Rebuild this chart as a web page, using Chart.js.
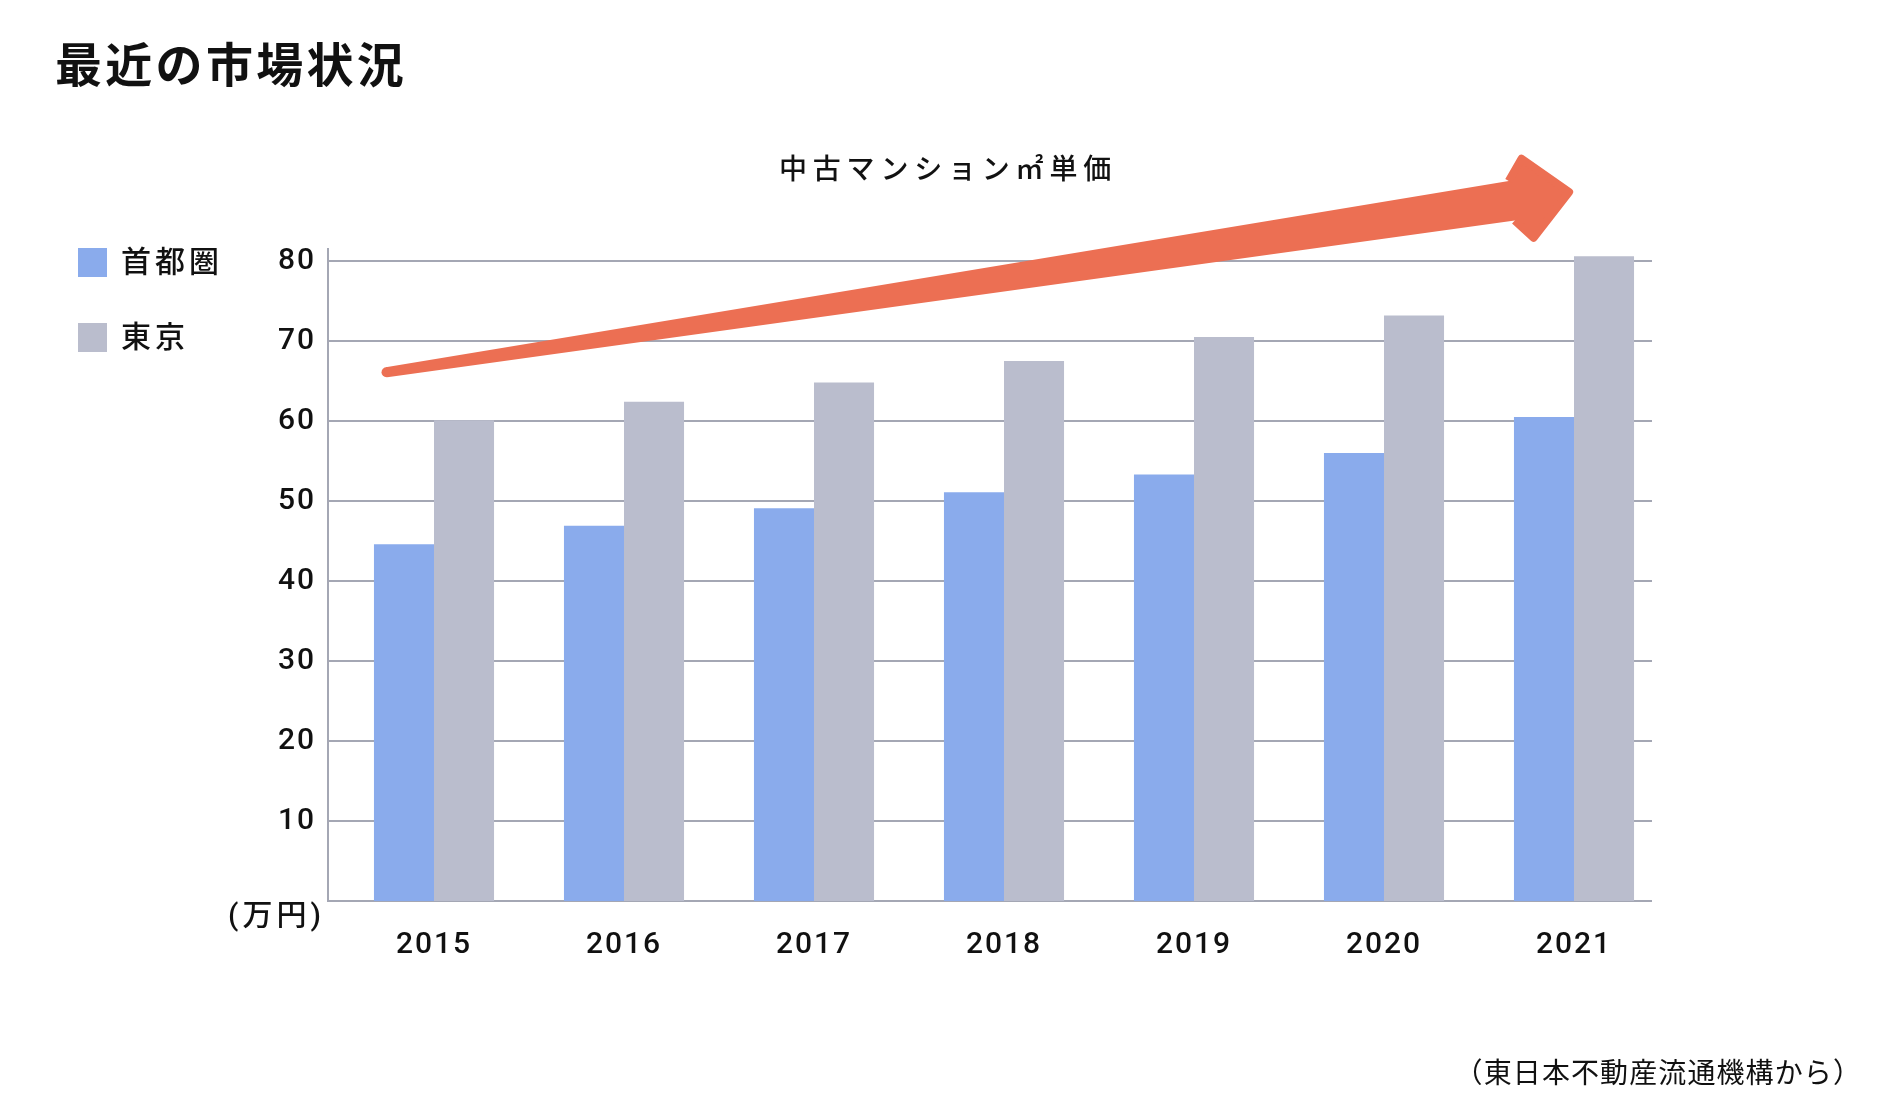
<!DOCTYPE html>
<html lang="ja">
<head>
<meta charset="utf-8">
<title>最近の市場状況</title>
<script src="https://cdn.jsdelivr.net/npm/chart.js@4/dist/chart.umd.min.js"></script>
<style>
    body {
        margin: 0;
        background: #ffffff;
        font-family: Roboto, 'Noto Sans CJK JP', sans-serif;
        color: #111111;
    }
    .page {
        position: relative;
        width: 1888px;
        height: 1113px;
        overflow: hidden;
    }
    .chart-box {
        position: absolute;
        left: 0;
        top: 0;
        width: 1888px;
        height: 1113px;
    }
    .txt {
        position: absolute;
        white-space: nowrap;
        line-height: 1;
    }
    .main-title {
        left: 55px;
        top: 42px;
        font-size: 47px;
        font-weight: 700;
        letter-spacing: 3.3px;
    }
    .sub-title {
        left: 779px;
        top: 156px;
        font-size: 28px;
        font-weight: 500;
        letter-spacing: 5.8px;
    }
    .legend-item {
        position: absolute;
        left: 78px;
        height: 30px;
    }
    .legend-swatch {
        position: absolute;
        left: 0;
        top: 0;
        width: 29px;
        height: 29px;
    }
    .legend-label {
        position: absolute;
        left: 43px;
        top: -1px;
        font-size: 30px;
        font-weight: 500;
        letter-spacing: 4px;
        line-height: 1;
        white-space: nowrap;
    }
    .unit {
        left: 228px;
        top: 900px;
        font-size: 30px;
        font-weight: 500;
        letter-spacing: 4px;
    }
    .source {
        right: 26px;
        top: 1060px;
        font-size: 28px;
        letter-spacing: 1.1px;
    }
</style>
</head>
<body>
<div class="page">
    <div class="chart-box"><canvas id="marketChart"></canvas></div>
    <div class="txt main-title">最近の市場状況</div>
    <div class="txt sub-title">中古マンション㎡単価</div>
    <div id="legend"></div>
    <div class="txt unit">(万円)</div>
    <div class="txt source">（東日本不動産流通機構から）</div>
</div>

<script>
// データ（万円/㎡）
const years = ['2015', '2016', '2017', '2018', '2019', '2020', '2021'];
const shutokenValues = [44.6, 46.9, 49.1, 51.1, 53.3, 56.0, 60.5];
const tokyoValues = [60.1, 62.4, 64.8, 67.5, 70.5, 73.2, 80.6];
const seriesNames = ['首都圏', '東京'];
const seriesColors = ['#8aabec', '#babdcd'];
const yMin = 0;
const yMax = 80;
const yStep = 10;

// 矢印（カテゴリ位置・値で指定）
const arrowStart = { x: -0.25, y: 66.1 };
const arrowTip = { x: 5.995, y: 88.7 };

const gridColor = '#a4a7b4';
const arrowColor = '#ec6f53';

// 凡例
function buildLegend() {
    const legend = document.getElementById('legend');
    const tops = [248, 323];
    seriesNames.forEach((name, i) => {
        const item = document.createElement('div');
        item.className = 'legend-item';
        item.style.top = tops[i] + 'px';
        const sw = document.createElement('div');
        sw.className = 'legend-swatch';
        sw.style.background = seriesColors[i];
        const lb = document.createElement('div');
        lb.className = 'legend-label';
        lb.textContent = name;
        item.appendChild(sw);
        item.appendChild(lb);
        legend.appendChild(item);
    });
}

// 目盛線と軸線（グラフ領域より少し左から、少し手前まで）
const axisLines = {
    id: 'axisLines',
    beforeDatasetsDraw(chart) {
        const ctx = chart.ctx;
        const area = chart.chartArea;
        const ys = chart.scales.y;
        const x0 = area.left - 11;
        const x1 = area.right - 17;
        ctx.save();
        ctx.strokeStyle = gridColor;
        ctx.lineWidth = 2;
        ys.ticks.forEach(t => {
            const y = Math.round(ys.getPixelForValue(t.value));
            ctx.beginPath();
            ctx.moveTo(x0, y);
            ctx.lineTo(x1, y);
            ctx.stroke();
        });
        ctx.beginPath();
        ctx.moveTo(x0, ys.top - 13);
        ctx.lineTo(x0, ys.bottom + 1);
        ctx.stroke();
        ctx.restore();
    }
};

// 右上がりの矢印
const trendArrow = {
    id: 'trendArrow',
    afterDatasetsDraw(chart) {
        const ctx = chart.ctx;
        const xs = chart.scales.x;
        const ys = chart.scales.y;
        const sx = xs.getPixelForValue(arrowStart.x);
        const sy = ys.getPixelForValue(arrowStart.y);
        const tx = xs.getPixelForValue(arrowTip.x);
        const ty = ys.getPixelForValue(arrowTip.y);
        const dx = tx - sx, dy = ty - sy;
        const L = Math.sqrt(dx * dx + dy * dy);
        const u = { x: dx / L, y: dy / L };
        const n = { x: u.y, y: -u.x };
        const pt = (a, p) => [sx + u.x * a + n.x * p, sy + u.y * a + n.y * p];

        const shaftEnd = L - 62;
        const headBase = L - 46;
        const pts = [
            pt(0, 5),
            pt(shaftEnd, 20),
            pt(headBase, 40),
            pt(L - 4, 0),
            pt(headBase, -40),
            pt(shaftEnd, -20),
            pt(0, -5)
        ];
        ctx.save();
        ctx.fillStyle = arrowColor;
        ctx.strokeStyle = arrowColor;
        ctx.lineJoin = 'round';
        ctx.lineWidth = 8;
        ctx.beginPath();
        ctx.moveTo(pts[0][0], pts[0][1]);
        for (let i = 1; i < pts.length; i++) ctx.lineTo(pts[i][0], pts[i][1]);
        ctx.closePath();
        ctx.fill();
        // 尾の丸み
        ctx.beginPath();
        ctx.arc(sx, sy, 5, 0, Math.PI * 2);
        ctx.fill();
        // 頭の角を丸く
        ctx.beginPath();
        ctx.moveTo(pts[1][0], pts[1][1]);
        ctx.lineTo(pts[2][0], pts[2][1]);
        ctx.lineTo(pts[3][0], pts[3][1]);
        ctx.lineTo(pts[4][0], pts[4][1]);
        ctx.lineTo(pts[5][0], pts[5][1]);
        ctx.stroke();
        ctx.restore();
    }
};

const spacing = {
    id: 'spacing',
    beforeDraw(chart) {
        chart.ctx.letterSpacing = '2px';
    }
};

function setupChart() {
    const ctx = document.getElementById('marketChart').getContext('2d');
    new Chart(ctx, {
        type: 'bar',
        data: {
            labels: years,
            datasets: [{
                label: seriesNames[0],
                data: shutokenValues,
                backgroundColor: seriesColors[0],
                borderWidth: 0,
                clip: false
            }, {
                label: seriesNames[1],
                data: tokyoValues,
                backgroundColor: seriesColors[1],
                borderWidth: 0,
                clip: false
            }]
        },
        options: {
            responsive: true,
            maintainAspectRatio: false,
            animation: false,
            categoryPercentage: 0.632,
            barPercentage: 1.0,
            layout: {
                padding: { left: 0, right: 219, top: 261, bottom: 132 }
            },
            plugins: {
                legend: { display: false },
                tooltip: { enabled: false }
            },
            scales: {
                x: {
                    grid: { display: false, drawTicks: false },
                    border: { display: false },
                    ticks: {
                        color: '#111111',
                        padding: 26,
                        font: { family: "Roboto, 'Noto Sans CJK JP'", size: 30, weight: '500' }
                    },
                    afterFit(scale) { scale.height = 80; }
                },
                y: {
                    min: yMin,
                    max: yMax,
                    grid: { display: false, drawTicks: false },
                    border: { display: false },
                    ticks: {
                        stepSize: yStep,
                        color: '#111111',
                        padding: 23,
                        font: { family: "Roboto, 'Noto Sans CJK JP'", size: 30, weight: '500' },
                        callback: function(value) {
                            return value === 0 ? '' : value;
                        }
                    },
                    afterFit(scale) { scale.width = 339; }
                }
            }
        },
        plugins: [spacing, axisLines, trendArrow]
    });
}

document.addEventListener('DOMContentLoaded', function() {
    buildLegend();
    setupChart();
});
</script>
</body>
</html>
